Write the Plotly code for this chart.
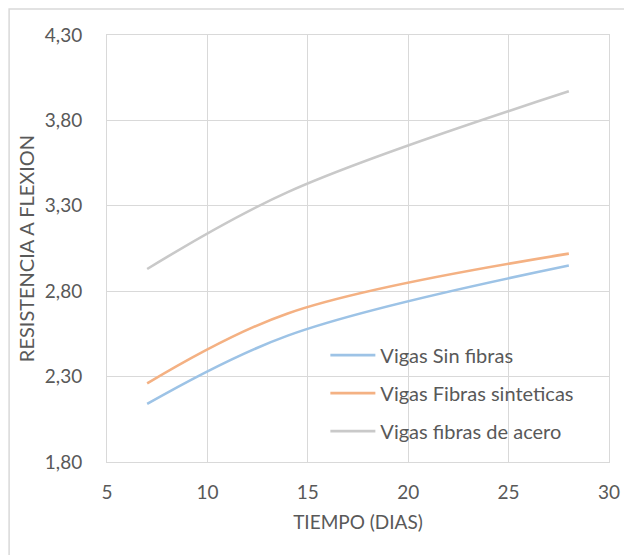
import plotly.graph_objects as go

# Curing time (days) and flexural strength for each beam type
dias = [7, 14, 28]
sin_fibras = [2.14, 2.54, 2.95]
fibras_sinteticas = [2.26, 2.67, 3.02]
fibras_acero = [2.93, 3.38, 3.97]

series_names = ["Vigas Sin fibras", "Vigas Fibras sinteticas", "Vigas fibras de acero"]
series_values = [sin_fibras, fibras_sinteticas, fibras_acero]
series_colors = ["#9DC3E6", "#F4B183", "#C9C9C9"]

y_ticks = [1.80, 2.30, 2.80, 3.30, 3.80, 4.30]
y_tick_labels = ["1,80", "2,30", "2,80", "3,30", "3,80", "4,30"]
x_ticks = [5, 10, 15, 20, 25, 30]

FONT = "Lato"
TEXT = "#595959"
GRID = "#D9D9D9"

fig = go.Figure()
for name, vals, col in zip(series_names, series_values, series_colors):
    fig.add_trace(go.Scatter(
        x=dias, y=vals, name=name, mode="lines",
        line=dict(color=col, width=2.6, shape="spline", smoothing=1.0),
        legendgroup=name,
    ))

fig.update_layout(
    width=624, height=555,
    margin=dict(l=107, r=15, t=35, b=93),
    paper_bgcolor="white", plot_bgcolor="white",
    font=dict(family=FONT, color=TEXT, size=19),
    showlegend=True,
    legend=dict(
        x=0.435, y=0.296, xanchor="left", yanchor="top",
        bgcolor="rgba(0,0,0,0)", font=dict(size=20, color=TEXT),
        traceorder="grouped", tracegroupgap=9, itemwidth=45,
    ),
    xaxis=dict(
        range=[5, 30], tickvals=x_ticks, showgrid=True, gridcolor=GRID, gridwidth=1,
        showline=True, linecolor=GRID, linewidth=1, mirror=True, zeroline=False,
        ticks="", ticklabelstandoff=13, tickfont=dict(size=19, color=TEXT),
        automargin=False,
        title=dict(text="TIEMPO (DIAS)", font=dict(size=19, color=TEXT), standoff=13),
    ),
    yaxis=dict(
        range=[1.80, 4.30], tickvals=y_ticks, ticktext=y_tick_labels,
        showgrid=True, gridcolor=GRID, gridwidth=1,
        showline=True, linecolor=GRID, linewidth=1, mirror=True, zeroline=False,
        ticks="", ticklabelstandoff=20, tickfont=dict(size=19, color=TEXT),
        automargin=False,
        title=dict(text="RESISTENCIA A FLEXION", font=dict(size=20, color=TEXT), standoff=4),
    ),
)

# Chart-area frame around the whole figure
fig.add_shape(
    type="rect", xref="paper", yref="paper",
    x0=-0.195, x1=1.05, y0=-0.26, y1=1.061,
    line=dict(color=GRID, width=1.5), fillcolor="rgba(0,0,0,0)", layer="below",
)

fig.write_html("out.html")
